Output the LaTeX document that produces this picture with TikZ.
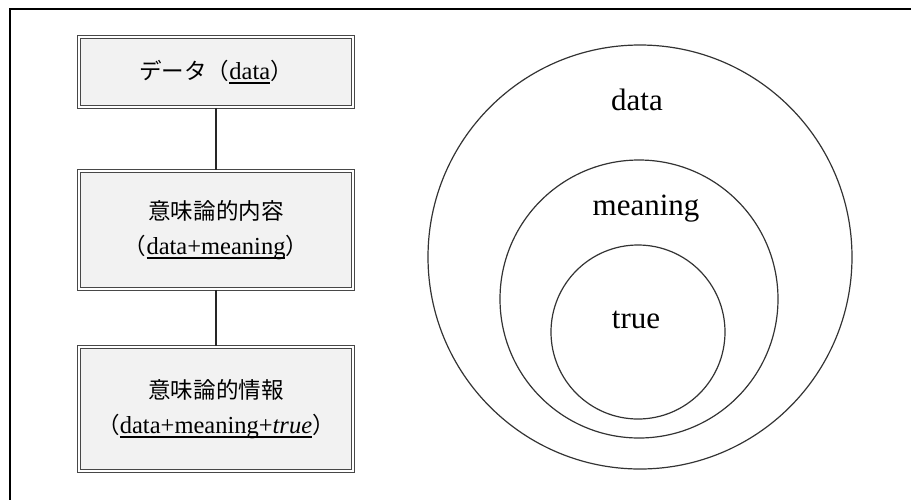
\documentclass[tikz,border=0pt]{standalone}
\usepackage{fontspec}
\setmainfont{Liberation Serif}
\newfontfamily\cjk[Scale=0.92]{Noto Sans CJK JP}
% underline set at a fixed depth under the baseline
\newcommand{\ulbase}[1]{\setbox0=\hbox{#1}\rlap{\rule[-0.17em]{\wd0}{0.075em}}\box0}
\begin{document}
\begin{tikzpicture}[x=1pt,y=-1pt,
  stagebox/.style={rectangle, draw=black!72, line width=1.7pt,
    double=white, double distance=1.1pt, fill=black!5,
    minimum width=274pt, inner sep=0pt, align=center,
    font=\fontsize{24.5}{35}\selectfont},
  conn/.style={draw=black!85, line width=1.4pt},
  ring/.style={circle, draw=black!80, line width=1.2pt, inner sep=0pt},
  ringlabel/.style={anchor=base, inner sep=0pt, font=\fontsize{31}{36}\selectfont}]
  \useasboundingbox (0,0) rectangle (911,499);
  \clip (0,0) rectangle (911,499);
  % page frame, running past the right and bottom edges
  \draw[line width=2pt] (10,9) rectangle (960,560);

  % stages on the left
  \node[stagebox, minimum height=70pt] (b1) at (216,72)
    {{\cjk データ（}\ulbase{data}{\cjk ）}};
  \node[stagebox, minimum height=118pt] (b2) at (216,230)
    {{\cjk 意味論的内容}\\{\cjk （}\ulbase{data+meaning}{\cjk ）}};
  \node[stagebox, minimum height=124pt] (b3) at (216,409)
    {{\cjk 意味論的情報}\\{\cjk （}\ulbase{data+meaning+\textit{true}}{\cjk ）}};
  \draw[conn] (b1.south) -- (b2.north);
  \draw[conn] (b2.south) -- (b3.north);

  % nested sets on the right
  \node[ring, minimum size=424pt] (outer) at (640,257) {};
  \node[ring, minimum size=278pt] (middle) at (639,299) {};
  \node[ring, minimum size=174pt] (inner) at (638,332) {};
  \node[ringlabel] (ldata) at (637,110) {data};
  \node[ringlabel] (lmeaning) at (646,215) {meaning};
  \node[ringlabel] (ltrue) at (636,328) {true};
\end{tikzpicture}
\end{document}
